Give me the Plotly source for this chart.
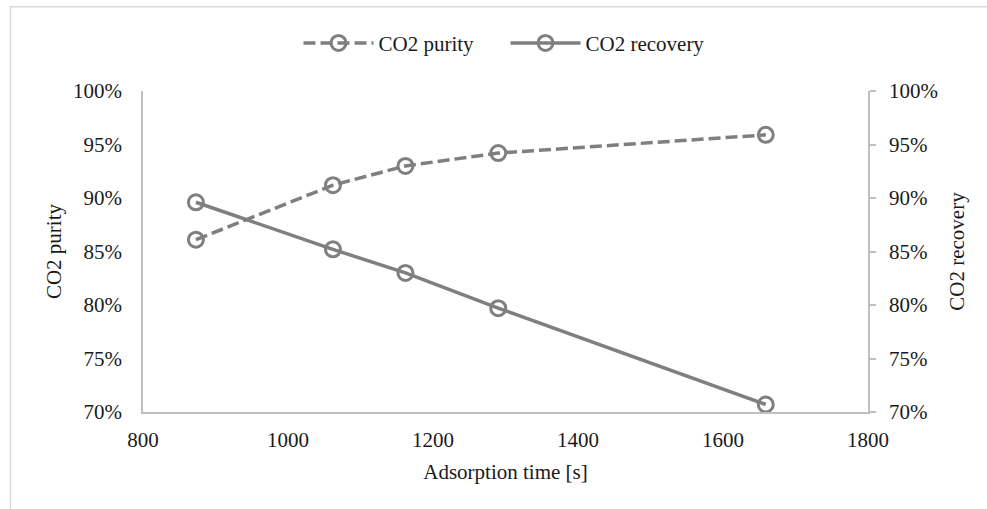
import plotly.graph_objects as go

# Adsorption time [s] and the resulting CO2 purity / recovery (%)
adsorption_time = [873, 1062, 1162, 1290, 1659]
co2_purity = [86.1, 91.2, 93.0, 94.2, 95.9]
co2_recovery = [89.6, 85.2, 83.0, 79.7, 70.7]

x_ticks = [800, 1000, 1200, 1400, 1600, 1800]
y_ticks = [70, 75, 80, 85, 90, 95, 100]
y_labels = [f"{v}%" for v in y_ticks]

GRAY = "#7f7f7f"
AXIS = "#bfbfbf"
TEXT = "#1a1a1a"
FONT = "Liberation Serif"
SIZE = 21
font = dict(family=FONT, size=SIZE, color=TEXT)

marker = dict(symbol="circle-open", size=15, color=GRAY, line=dict(width=3, color=GRAY))

fig = go.Figure()
fig.add_trace(go.Scatter(
    x=adsorption_time, y=co2_purity, name="CO2 purity", mode="lines+markers",
    line=dict(color=GRAY, width=3.5, dash="12px,5px"), marker=marker, yaxis="y",
))
fig.add_trace(go.Scatter(
    x=adsorption_time, y=co2_recovery, name="CO2 recovery", mode="lines+markers",
    line=dict(color=GRAY, width=3.5), marker=marker, yaxis="y2",
))

W, H = 987, 509
L, R, T, B = 143, 119.4, 90.7, 97.3
pw, ph = W - L - R, H - T - B


def px_to_paper(px, py):
    return (px - L) / pw, (H - B - py) / ph


x0, y1 = px_to_paper(10.5, 6.5)
x1, y0 = px_to_paper(1010, 530)

fig.update_layout(
    width=W, height=H,
    margin=dict(l=L, r=R, t=T, b=B, pad=0),
    paper_bgcolor="white", plot_bgcolor="white",
    font=font,
    showlegend=True,
    legend=dict(orientation="h", x=0.5, xanchor="center", y=px_to_paper(0, 43)[1],
                yanchor="middle", font=font, itemwidth=70,
                entrywidth=122, entrywidthmode="pixels", bgcolor="rgba(0,0,0,0)"),
    xaxis=dict(
        range=[800, 1800], tickvals=x_ticks, ticktext=[str(v) for v in x_ticks],
        tickfont=font, showgrid=False, zeroline=False, showline=True,
        linecolor=AXIS, linewidth=1.5, ticks="", ticklabelstandoff=8,
        title=dict(text="Adsorption time [s]", standoff=13, font=font),
    ),
    yaxis=dict(
        range=[70, 100], tickvals=y_ticks, ticktext=y_labels, tickfont=font,
        showgrid=False, zeroline=False, showline=True, linecolor=AXIS, linewidth=1.5,
        ticks="", ticklabelstandoff=15,
        title=dict(text="CO2 purity", standoff=6, font=font),
    ),
    yaxis2=dict(
        range=[70, 100], tickvals=y_ticks, ticktext=y_labels, tickfont=font,
        overlaying="y", side="right",
        showgrid=False, zeroline=False, showline=True, linecolor=AXIS, linewidth=1.5,
        ticks="outside", ticklen=6, tickcolor=AXIS, tickwidth=1.5, ticklabelstandoff=9,
        title=dict(text="CO2 recovery", standoff=12, font=font),
    ),
    shapes=[dict(type="rect", xref="paper", yref="paper", x0=x0, x1=x1, y0=y0, y1=y1,
                 line=dict(color="#d9d9d9", width=1.5), layer="below")],
)

fig.write_html("out.html")
